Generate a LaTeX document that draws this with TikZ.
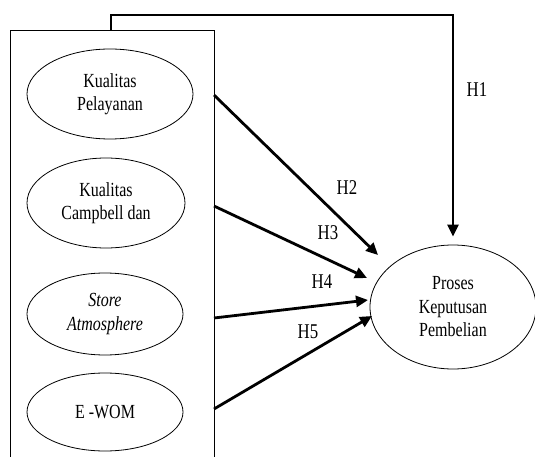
\documentclass[tikz,border=0pt]{standalone}
\usepackage{fontspec}
\setmainfont{Liberation Serif}[FakeStretch=0.8]
\usetikzlibrary{shapes.geometric,arrows.meta}
\tikzset{
  var/.style={draw,ellipse,line width=0.8pt,inner sep=0pt,align=center,
    font=\fontsize{20}{23.5}\selectfont},
  conn/.style={line width=2.8pt,-{Triangle[length=12pt,width=11pt]}},
  lab/.style={font=\fontsize{21}{24}\selectfont,inner sep=0pt},
}
\begin{document}
\begin{tikzpicture}[x=1pt,y=-1pt]
\useasboundingbox (0,0) rectangle (535,457);
% left frame (open at bottom, cut by the picture edge)
\coordinate (fbl) at (10,460);
\coordinate (ftl) at (10,30);
\coordinate (ftr) at (214,30);
\coordinate (fbr) at (214,460);
\draw[line width=0.8pt] (fbl) -- (ftl) -- (ftr) -- (fbr);

\node[var,minimum width=166pt,minimum height=90pt] (kp) at (110,94) {Kualitas\\Pelayanan};
\node[var,minimum width=158pt,minimum height=90pt] (kc) at (106,203) {Kualitas\\Campbell dan};
\node[var,minimum width=156pt,minimum height=82pt] (sa) at (105,314) {\itshape Store\\\itshape Atmosphere};
\node[var,minimum width=156pt,minimum height=78pt] (ew) at (105,412) {E -WOM};
\node[var,minimum width=166pt,minimum height=124pt] (pkp) at (453,307) {Proses\\Keputusan\\Pembelian};

% H1
\coordinate (h1s) at (111,30);
\coordinate (h1a) at (111,15);
\coordinate (h1b) at (453,15);
\draw[conn,shorten >=8pt] (h1s) -- (h1a) -- (h1b) -- (pkp.north);

% H2 - H5
\coordinate (s2) at (214,95);  \coordinate (t2) at (378,255);
\coordinate (s3) at (214,206); \coordinate (t3) at (367,278);
\coordinate (s4) at (214,318); \coordinate (t4) at (368,300);
\coordinate (s5) at (214,409); \coordinate (t5) at (372,316);
\draw[conn] (s2) -- (t2);
\draw[conn] (s3) -- (t3);
\draw[conn] (s4) -- (t4);
\draw[conn] (s5) -- (t5);

\node[lab] (l1) at (477,90) {H1};
\node[lab] (l2) at (347,188) {H2};
\node[lab] (l3) at (328,233) {H3};
\node[lab] (l4) at (322,282) {H4};
\node[lab] (l5) at (308,332) {H5};
\end{tikzpicture}
\end{document}
